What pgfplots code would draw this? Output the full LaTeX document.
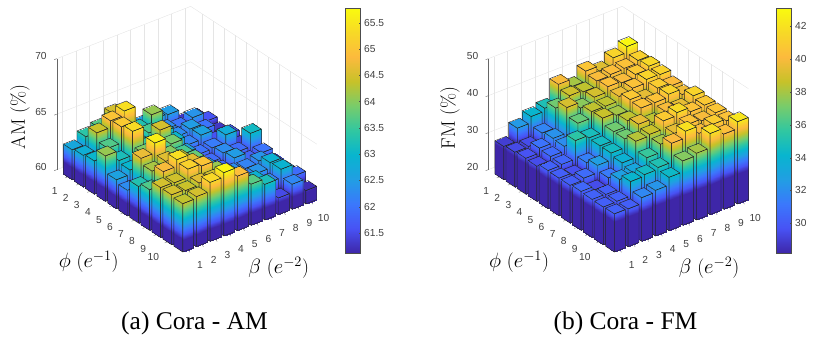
\documentclass[border=0pt]{standalone}
\usepackage{fontspec}
\usepackage{pgfplots}
\usepackage{pgfplotstable}
\usepgfplotslibrary{patchplots}
\pgfplotsset{compat=1.18}
\newfontfamily\tickfont{Liberation Sans}
\newfontfamily\capfont{Liberation Serif}

% 11 rows along the phi axis (back to front), columns beta=1..10
\pgfplotstableread[header=false]{
62.7 63.4 63.7 64.5 63.0 62.5 62.6 62.5 61.3 61.2
62.85 64.4 65.0 65.4 63.3 64.1 62.3 62.0 62.4 61.6
63.0 63.66 65.1 63.3 63.6 63.2 62.3 62.5 62.0 61.3
64.1 63.2 65.35 63.5 64.5 63.0 62.2 62.6 61.6 61.7
62.6 63.0 64.0 63.6 63.9 62.6 62.0 62.1 62.8 61.4
62.3 64.7 65.6 64.0 63.6 62.3 61.9 62.3 61.9 63.1
63.3 64.2 64.6 64.3 63.8 62.6 61.9 62.5 61.8 62.0
63.66 64.8 65.4 64.6 63.6 62.8 62.3 62.2 62.4 61.7
64.5 64.45 65.2 65.0 64.1 63.2 62.3 62.4 62.9 61.7
64.5 64.4 64.6 64.5 64.2 63.5 62.9 62.2 62.95 61.9
64.35 64.5 65.3 65.7 64.9 63.7 63.2 61.5 62.25 61.2
}\amtable
\pgfplotstableread[header=false]{
29.0 32.5 34.2 35.0 40.0 38.0 40.7 39.3 41.4 43.0
29.4 29.5 31.7 37.0 38.9 38.5 40.0 40.3 40.5 41.2
29.7 31.0 32.2 39.1 37.5 39.0 40.4 40.0 40.8 41.6
29.5 30.7 32.0 36.8 38.5 38.5 39.7 40.5 41.4 41.3
30.3 30.5 35.5 34.8 38.7 38.0 40.8 39.5 41.0 40.2
30.2 29.6 31.5 34.6 37.0 38.5 40.5 40.5 41.3 39.8
30.2 30.7 32.7 34.6 37.0 39.5 38.5 40.0 39.5 41.4
30.5 29.5 31.3 33.9 38.3 38.7 40.9 41.7 40.5 40.8
30.3 30.2 32.8 33.2 35.8 38.0 39.5 40.5 40.0 40.7
30.2 30.3 34.2 34.6 35.1 40.2 42.0 40.0 41.0 40.5
30.3 30.2 31.8 32.3 34.4 37.4 38.0 41.9 40.3 42.2
}\fmtable

\pgfplotsset{
  colormap={parula}{rgb=(.2422,.1504,.6603) rgb=(.2810,.3228,.9579) rgb=(.2300,.4700,.9900)
    rgb=(.1300,.6200,.8900) rgb=(.0300,.7100,.8100) rgb=(.1900,.7800,.6300)
    rgb=(.4700,.8000,.4200) rgb=(.7800,.7600,.1600) rgb=(.9900,.7300,.2400)
    rgb=(.9700,.8500,.1500) rgb=(.9763,.9831,.0538)},
  colormap={amflat}{rgb=(.2422,.1504,.6603) rgb=(.2422,.1504,.6603) rgb=(.2422,.1504,.6603)
    rgb=(.2422,.1504,.6603) rgb=(.2810,.3228,.9579) rgb=(.2300,.4700,.9900)
    rgb=(.1300,.6200,.8900) rgb=(.0300,.7100,.8100) rgb=(.1900,.7800,.6300)
    rgb=(.4700,.8000,.4200) rgb=(.7800,.7600,.1600) rgb=(.9900,.7300,.2400)
    rgb=(.9700,.8500,.1500) rgb=(.9763,.9831,.0538)},
  colormap={fmflat}{rgb=(.2422,.1504,.6603) rgb=(.2422,.1504,.6603) rgb=(.2422,.1504,.6603)
    rgb=(.2422,.1504,.6603) rgb=(.2422,.1504,.6603) rgb=(.2422,.1504,.6603)
    rgb=(.2422,.1504,.6603) rgb=(.2810,.3228,.9579) rgb=(.2300,.4700,.9900)
    rgb=(.1300,.6200,.8900) rgb=(.0300,.7100,.8100) rgb=(.1900,.7800,.6300)
    rgb=(.4700,.8000,.4200) rgb=(.7800,.7600,.1600) rgb=(.9900,.7300,.2400)
    rgb=(.9700,.8500,.1500) rgb=(.9763,.9831,.0538)},
  barchart/.style={
    x={(13.67pt,5.34pt)}, y={(11.06pt,-7.22pt)},
    xmin=0.6, xmax=10.4, ymin=0, ymax=11.4,
    xtick={1,...,10}, ytick={1,...,10},
    clip=false,
    axis line style={draw=none},
    tick style={draw=none}, tick align=outside, major tick length=3pt,
    tick label style={font=\tickfont\fontsize{10.2}{11}\selectfont, text=black!75,
      /pgf/number format/assume math mode=true},
    x tick label style={xshift=5pt, yshift=-6pt},
    y tick label style={xshift=-5pt, yshift=-5pt},
    z tick label style={xshift=-4pt},
    xtick pos=left, ytick pos=left, ztick pos=left,
  },
  cbar/.style={
    scale only axis, width=15pt, height=245pt, xmin=0, xmax=1,
    xtick=\empty, ytick pos=right, yticklabel pos=right, tick align=inside,
    major tick length=2pt, tick style={black!70},
    axis line style={black!70, line width=.5pt},
    tick label style={font=\tickfont\fontsize{10.2}{11}\selectfont, text=black!75,
      /pgf/number format/assume math mode=true},
    colormap name=parula, axis on top,
  },
}

% one bar: beta, row, value, floor of the axis
\newcommand\onebar[4]{%
  \pgfmathsetmacro\xa{#1-.4}\pgfmathsetmacro\xb{#1+.4}%
  \pgfmathsetmacro\ya{#2-.4}\pgfmathsetmacro\yb{#2+.4}%
  \edef\tmp{\noexpand\addplot3[patch, patch type=rectangle, shader=faceted interp,
    faceted color=black!85, line width=.45pt, point meta=z] coordinates {
    (\xa,\ya,#3) (\xb,\ya,#3) (\xb,\yb,#3) (\xa,\yb,#3)
    (\xa,\ya,#4) (\xa,\yb,#4) (\xa,\yb,#3) (\xa,\ya,#3)
    (\xa,\yb,#4) (\xb,\yb,#4) (\xb,\yb,#3) (\xa,\yb,#3)};}\tmp}
\newcommand\allbars[2]{%
  \foreach \r in {0,...,10}{\foreach \c in {9,8,...,0}{%
    \pgfplotstablegetelem{\r}{[index]\c}\of#1%
    \let\val\pgfplotsretval
    \pgfmathsetmacro\bb{int(\c+1)}\pgfmathsetmacro\pp{int(\r+1)}%
    \onebar{\bb}{\pp}{\val}{#2}}}}
% wall and floor grid, axis line and ticks: zmin, zmax, z ticks
\newcommand\walls[3]{%
  \pgfplotsinvokeforeach{1,...,10}{%
    \draw[black!10] (axis cs:##1,0,#1) -- (axis cs:##1,0,#2);
    \draw[black!10] (axis cs:10.4,##1,#1) -- (axis cs:10.4,##1,#2);
    \draw[black!10] (axis cs:##1,0,#1) -- (axis cs:##1,11.4,#1);
    \draw[black!10] (axis cs:.6,##1,#1) -- (axis cs:10.4,##1,#1);
    \draw[black!50] (axis cs:##1,11.4,#1) -- ++(1.6pt,-2.4pt);
    \draw[black!50] (axis cs:.6,##1,#1) -- ++(-2.6pt,-1pt);}
  \pgfplotsinvokeforeach{#3}{%
    \draw[black!10] (axis cs:.6,0,##1) -- (axis cs:10.4,0,##1) -- (axis cs:10.4,11.4,##1);
    \draw[black!60] (axis cs:.6,0,##1) -- ++(-2.6pt,-1pt);}
  \draw[black!60] (axis cs:.6,0,#1) -- (axis cs:.6,0,#2);}

\begin{document}
\begin{tikzpicture}[x=1pt,y=1pt]
\useasboundingbox (0,0) rectangle (827,352);

\begin{axis}[barchart, at={(56.7pt,100pt)}, anchor=south west,
  z={(0pt,11.1pt)}, zmin=60, zmax=70, ztick={60,65,70},
  colormap name=amflat, point meta min=59.722, point meta max=65.78]
\walls{60}{70}{60,65,70}
\allbars{\amtable}{60}
\end{axis}
\begin{axis}[cbar, at={(345.7pt,99pt)}, anchor=south west, ymin=61.12, ymax=65.78,
  ytick={61.5,62,...,65.5}, point meta min=61.12, point meta max=65.78]
\addplot[patch, patch type=rectangle, shader=interp, point meta=y] coordinates {
  (0,61.12) (1,61.12) (1,65.78) (0,65.78)};
\end{axis}

\begin{axis}[barchart, at={(488.3pt,100pt)}, anchor=south west,
  z={(0pt,3.7pt)}, zmin=20, zmax=50, ztick={20,30,40,50},
  colormap name=fmflat, point meta min=19.232, point meta max=43.12]
\walls{20}{50}{20,30,40,50}
\allbars{\fmtable}{20}
\end{axis}
\begin{axis}[cbar, at={(776.7pt,99pt)}, anchor=south west, ymin=28.19, ymax=43.12,
  ytick={30,32,...,42}, point meta min=28.19, point meta max=43.12]
\addplot[patch, patch type=rectangle, shader=interp, point meta=y] coordinates {
  (0,28.19) (1,28.19) (1,43.12) (0,43.12)};
\end{axis}

\node[rotate=90, font=\fontsize{19.5}{20}\selectfont] at (20,235) {AM (\%)};
\node[rotate=90, font=\fontsize{19.5}{20}\selectfont] at (450,234) {FM (\%)};
\node[font=\fontsize{19.5}{20}\selectfont] at (88.7,90) {$\phi$ ($e^{-1}$)};
\node[font=\fontsize{19.5}{20}\selectfont] at (278.7,84) {$\beta$ ($e^{-2}$)};
\node[font=\fontsize{19.5}{20}\selectfont] at (519,90) {$\phi$ ($e^{-1}$)};
\node[font=\fontsize{19.5}{20}\selectfont] at (709,84) {$\beta$ ($e^{-2}$)};
\node[font=\capfont\fontsize{25.5}{26}\selectfont] at (194.5,29) {(a) Cora - AM};
\node[font=\capfont\fontsize{25.5}{26}\selectfont] at (625.5,29) {(b) Cora - FM};
\end{tikzpicture}
\end{document}
